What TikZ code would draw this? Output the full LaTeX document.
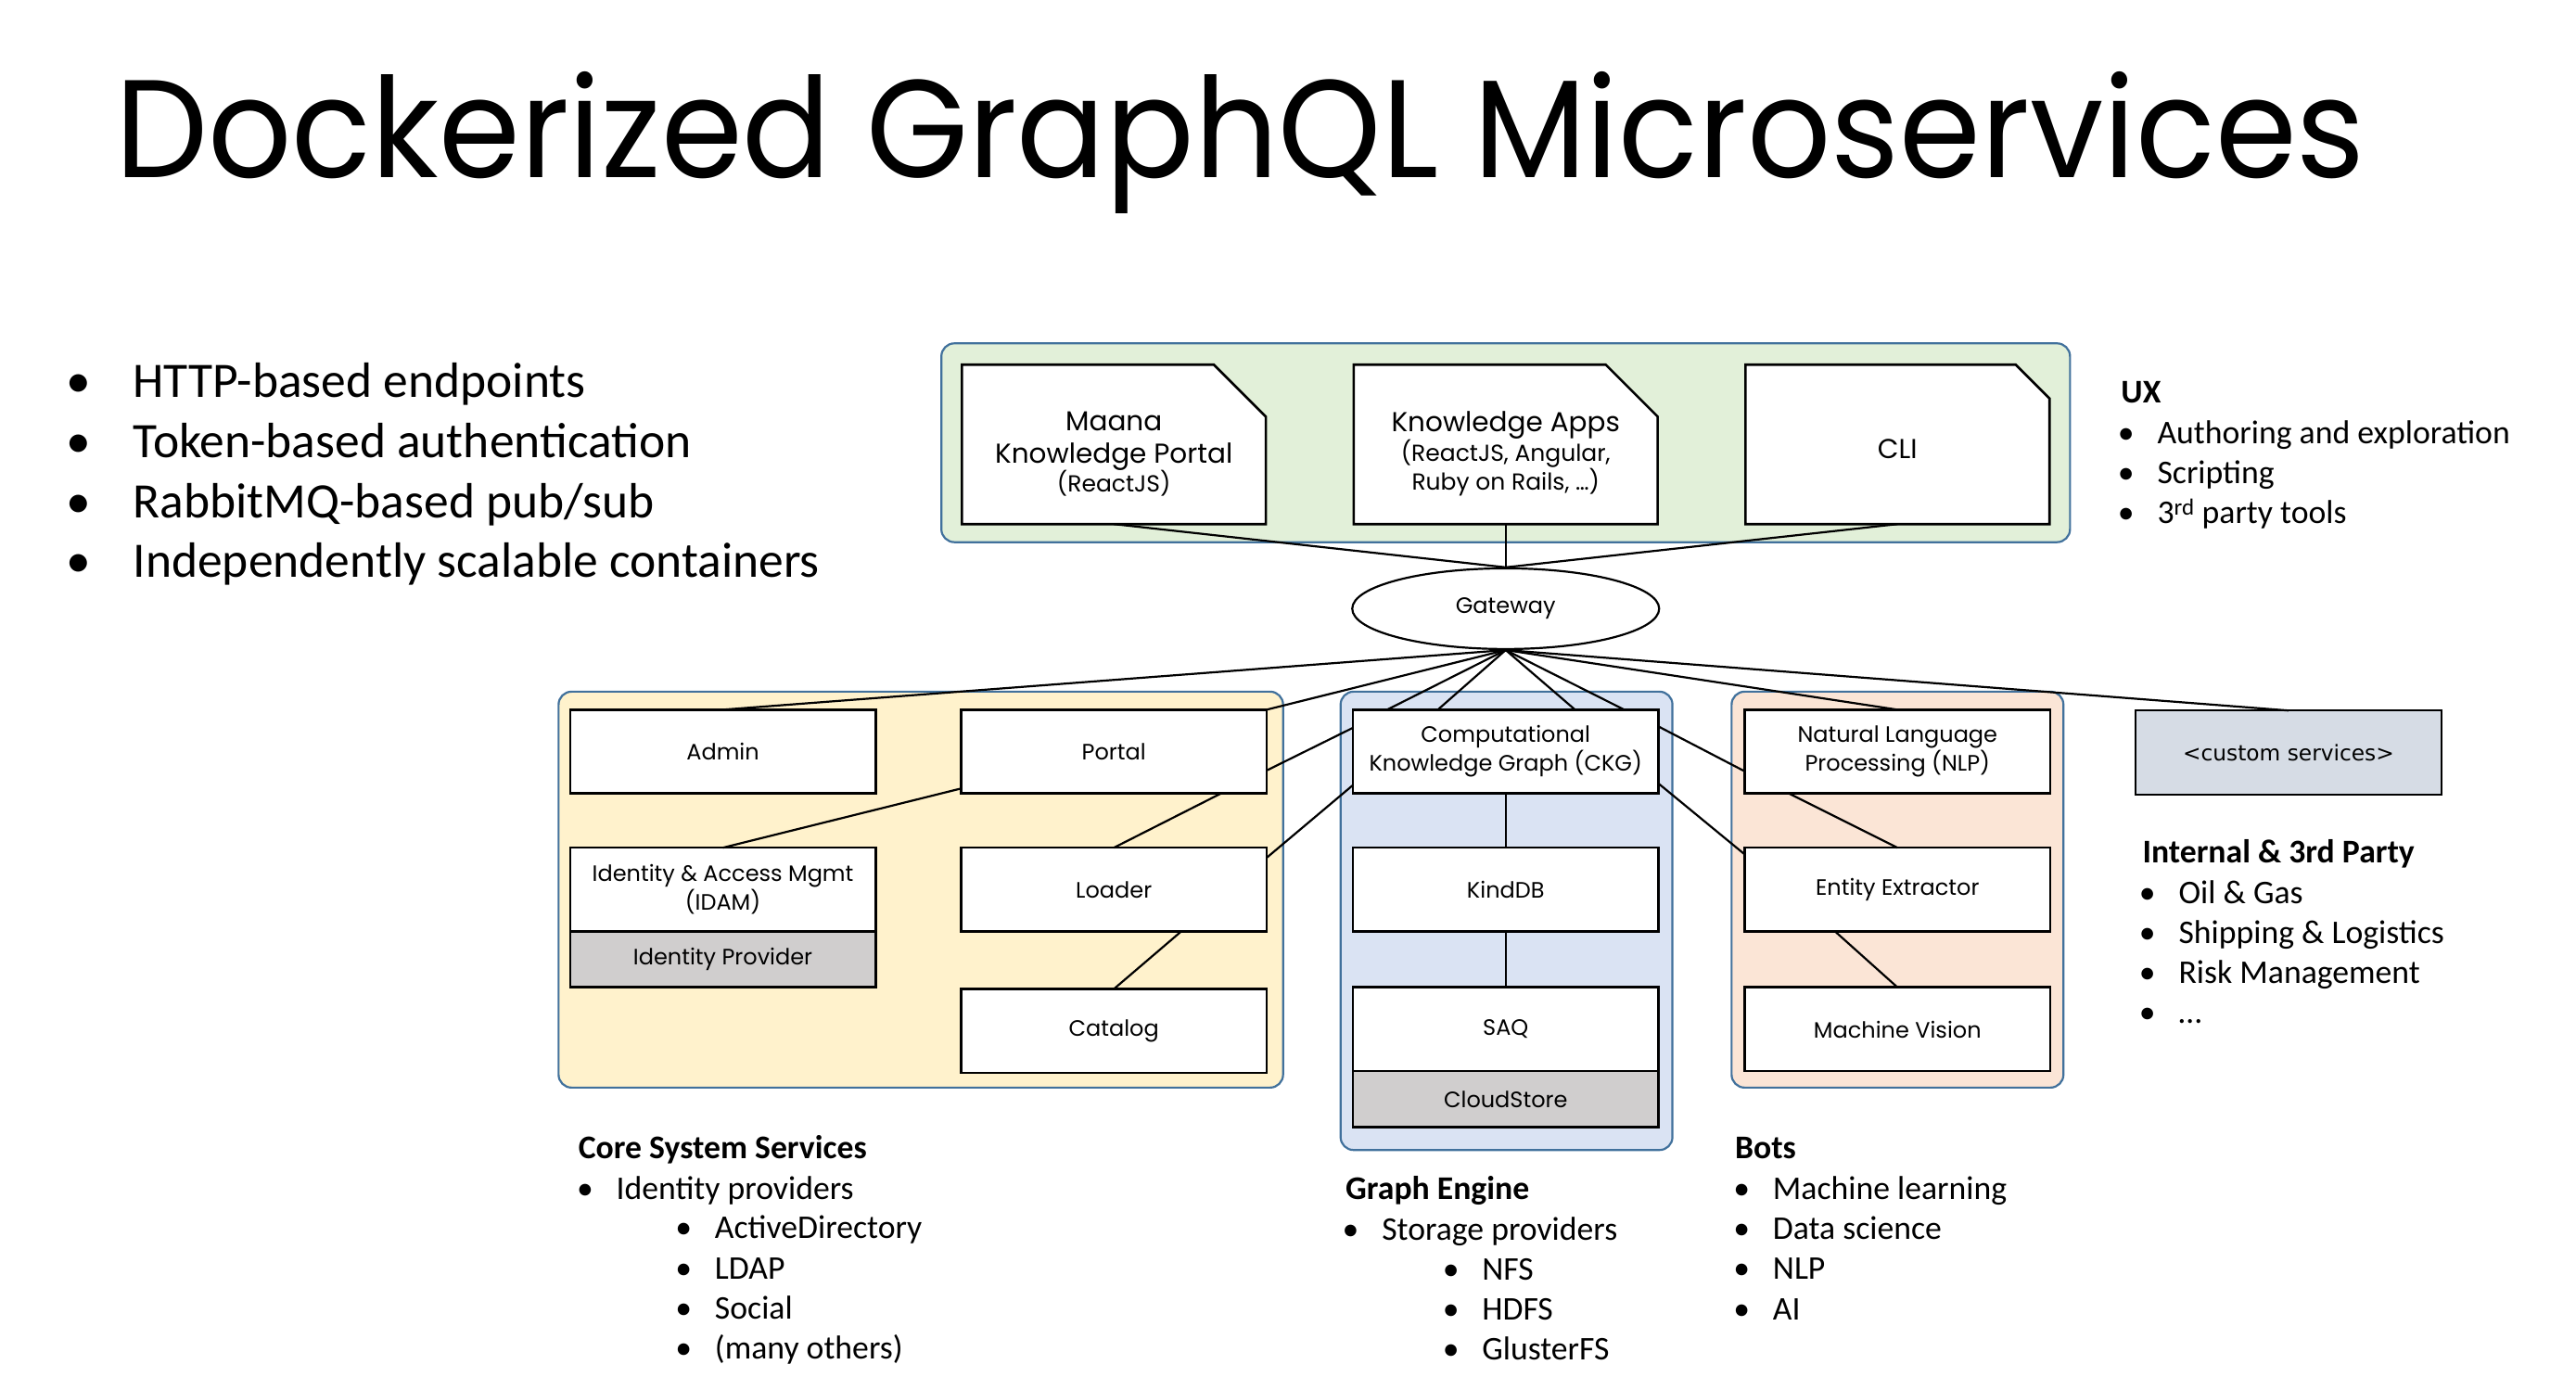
\documentclass[tikz,border=0pt]{standalone}
\usepackage{fontspec}
\setmainfont{Carlito}
\newfontfamily\boxfont{Poppins}
\newfontfamily\tagfont{DejaVu Sans}
\usetikzlibrary{shapes.geometric,shapes.misc,calc}

\definecolor{uxfill}{HTML}{E2F0D9}
\definecolor{corefill}{HTML}{FFF2CC}
\definecolor{graphfill}{HTML}{DAE3F3}
\definecolor{botfill}{HTML}{FBE5D6}
\definecolor{groupframe}{HTML}{41719C}
\definecolor{providerfill}{HTML}{D0CECE}
\definecolor{customfill}{HTML}{D6DCE5}

\newcommand{\bigdot}{\makebox[72.6pt][l]{•}}
\newcommand{\smalldot}{\makebox[42.6pt][l]{•}}

\begin{document}
\begin{tikzpicture}[x=1.7717pt,y=-1.7717pt,
  group/.style={draw=groupframe,line width=2.2pt,rounded corners=14pt},
  svc/.style={draw,line width=2.6pt,fill=white,minimum width=329.5pt,
    minimum height=90.4pt,inner sep=0pt,outer sep=0pt,
    font=\boxfont\fontsize{24}{31}\selectfont,align=center},
  store/.style={svc,fill=providerfill,minimum height=60.2pt},
  doc/.style={chamfered rectangle,chamfered rectangle corners=north east,
    chamfered rectangle xsep=28pt,chamfered rectangle ysep=28pt,
    draw,line width=2.6pt,fill=white,minimum width=327.8pt,
    minimum height=171.9pt,inner sep=0pt,outer sep=0pt,align=center,
    font=\boxfont\fontsize{29.5}{35}\selectfont},
  link/.style={line width=2.2pt},
  big/.style={anchor=base west,inner sep=0pt,font=\fontsize{53.5}{64}\selectfont},
  item/.style={anchor=base west,inner sep=0pt,font=\fontsize{35.7}{43}\selectfont},
  head/.style={item,font=\fontsize{35.7}{43}\selectfont\bfseries},
]
\useasboundingbox (0,0) rectangle (1568,846);
\fill[white] (0,0) rectangle (1568,846);

% title
\node[anchor=base west,inner sep=0pt,font=\boxfont\fontsize{150}{160}\selectfont]
  (title) at (70,108) {\scalebox{0.943}[1]{Dockerized GraphQL Microservices}};

% feature list
\foreach \t [count=\i] in {HTTP-based endpoints,Token-based authentication,
  RabbitMQ-based pub/sub,Independently scalable containers}
  \node[big] (feat\i) at (40,{242+36.5*(\i-1)}) {\bigdot\t};

% group backgrounds
\draw[group,fill=uxfill] (573,209) rectangle (1260,330);
\draw[group,fill=corefill] (340,421) rectangle (781,662);
\draw[group,fill=graphfill] (816,421) rectangle (1018,700);
\draw[group,fill=botfill] (1054,421) rectangle (1256,662);

% front ends
\node[doc] (maana) at (678,270.5)
  {\rule{0pt}{41pt}Maana\\Knowledge Portal\\[-4pt]{\fontsize{25}{30}\selectfont (ReactJS)}};
\node[doc] (kapps) at (916.5,270.5)
  {\rule{0pt}{42pt}Knowledge Apps\\[-3pt]{\fontsize{25}{30}\selectfont (ReactJS, Angular,}\\[-4pt]
   {\fontsize{25}{30}\selectfont Ruby on Rails, …)}};
\node[doc] (cli) at (1155,270.5) {\rule{0pt}{30pt}CLI};

% gateway
\node[ellipse,draw,line width=2.2pt,fill=white,minimum width=331pt,
  minimum height=87pt,inner sep=0pt,font=\boxfont\fontsize{24}{30}\selectfont]
  (gw) at (916.5,370.5) {Gateway};

% core system services
\node[svc] (admin) at (440,457.5) {Admin};
\node[svc] (portal) at (678,457.5) {Portal};
\node[svc] (idam) at (440,541.5) {Identity \& Access Mgmt\\(IDAM)};
\node[store] (idp) at (440,584) {Identity Provider};
\node[svc] (loader) at (678,541.5) {Loader};
\node[svc] (catalog) at (678,627.5) {Catalog};

% graph engine
\node[svc] (ckg) at (916.5,457.5) {Computational\\Knowledge Graph (CKG)};
\node[svc] (kinddb) at (916.5,541.5) {KindDB};
\node[svc] (saq) at (916.5,626.5) {SAQ};
\node[store] (cloud) at (916.5,669) {CloudStore};

% bots
\node[svc] (nlp) at (1155,457.5) {Natural Language\\Processing (NLP)};
\node[svc] (ee) at (1155,541.5) {Entity Extractor};
\node[svc] (mv) at (1155,626.5) {Machine Vision};

% custom services
\node[svc,fill=customfill,line width=2.2pt,font=\tagfont\fontsize{23.3}{28}\selectfont]
  (custom) at (1393,458) {<custom services>};

% connectors: front ends to gateway
\draw[link] (maana.south) -- (gw.north);
\draw[link] (kapps.south) -- (gw.north);
\draw[link] (cli.south) -- (gw.north);

% connectors: gateway to services
\draw[link] (gw.south) -- (admin.north);
\draw[link] (gw.south) -- (portal.north east);
\foreach \f in {0.112,0.278,0.727,0.888}
  \draw[link] (gw.south) -- ($(ckg.north west)!\f!(ckg.north east)$);
\draw[link] (gw.south) -- (nlp.north);
\draw[link] (gw.south) -- (custom.north);

% connectors inside the core group
\draw[link] (idam.north) -- ($(portal.north west)!0.94!(portal.south west)$);
\draw[link] ($(portal.south west)!0.85!(portal.south east)$) -- (loader.north);
\draw[link] ($(loader.south west)!0.72!(loader.south east)$) -- (catalog.north);

% connectors across groups
\draw[link] ($(portal.north east)!0.725!(portal.south east)$) --
  ($(ckg.north west)!0.216!(ckg.south west)$);
\draw[link] ($(loader.north east)!0.12!(loader.south east)$) --
  ($(ckg.north west)!0.9!(ckg.south west)$);
\draw[link] ($(ckg.north east)!0.2!(ckg.south east)$) --
  ($(nlp.north west)!0.735!(nlp.south west)$);
\draw[link] ($(ckg.north east)!0.88!(ckg.south east)$) --
  ($(ee.north west)!0.08!(ee.south west)$);

% graph engine chain
\draw[link] (ckg.south) -- (kinddb.north);
\draw[link] (kinddb.south) -- (saq.north);

% bots chain
\draw[link] ($(nlp.south west)!0.145!(nlp.south east)$) -- (ee.north);
\draw[link] ($(ee.south west)!0.296!(ee.south east)$) -- (mv.north);

% UX notes
\node[head] (uxh) at (1291,245) {UX};
\foreach \t [count=\i] in {Authoring and exploration,Scripting,3\textsuperscript{rd} party tools}
  \node[item] (ux\i) at (1289,{270+24.3*(\i-1)}) {\smalldot\t};

% internal & 3rd party notes
\node[head] (inth) at (1304,525) {Internal \& 3rd Party};
\foreach \t [count=\i] in {Oil \& Gas,Shipping \& Logistics,Risk Management,…}
  \node[item] (int\i) at (1302,{550+24.3*(\i-1)}) {\smalldot\t};

% core system services notes
\node[head] (coreh) at (352,705) {Core System Services};
\node[item] (core1) at (351,730) {\smalldot Identity providers};
\foreach \t [count=\i] in {ActiveDirectory,LDAP,Social,(many others)}
  \node[item] (coresub\i) at (411,{754+24.4*(\i-1)}) {\smalldot\t};

% graph engine notes
\node[head] (graphh) at (819,730) {Graph Engine};
\node[item] (graph1) at (817,755) {\smalldot Storage providers};
\foreach \t [count=\i] in {NFS,HDFS,GlusterFS}
  \node[item] (graphsub\i) at (878,{779+24.4*(\i-1)}) {\smalldot\t};

% bots notes
\node[head] (both) at (1056,705) {Bots};
\foreach \t [count=\i] in {Machine learning,Data science,NLP,AI}
  \node[item] (bot\i) at (1055,{730+24.4*(\i-1)}) {\smalldot\t};
\end{tikzpicture}
\end{document}
